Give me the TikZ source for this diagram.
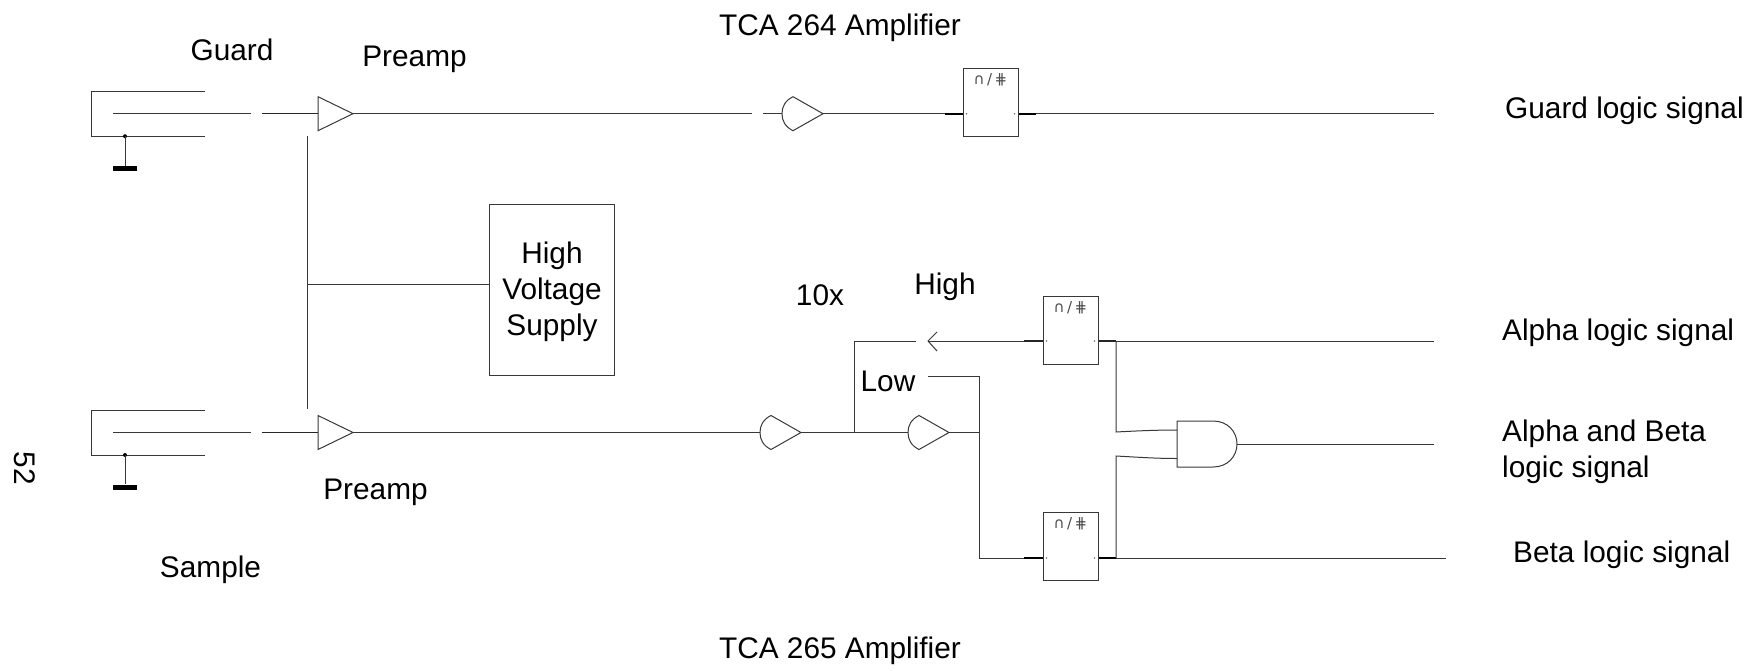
\documentclass[tikz,border=0pt]{standalone}
\usepackage{fontspec}
\setmainfont{Liberation Sans}
\newfontfamily\symfont{DejaVu Sans}
\tikzset{
  wire/.style={draw=black!78,line width=1pt},
  thick wire/.style={draw=black,line width=1.8pt},
  lead wire/.style={draw=black!85,line width=1.2pt},
  lbl/.style={inner sep=0pt,font=\fontsize{29.8}{36}\selectfont,text=black},
  lblw/.style={lbl,anchor=west},
  logicbox/.style={draw=black!78,line width=1pt,minimum width=55pt,minimum height=68pt,inner sep=0pt,
     label={[inner sep=0pt,text=black!70,font=\symfont\fontsize{15}{16}\selectfont,anchor=north,yshift=-5.5pt]north:{∩\,/\,⋕}}},
  hvbox/.style={draw=black!78,line width=1pt,minimum width=125pt,minimum height=171pt,inner sep=0pt},
  dotj/.style={circle,fill=black,inner sep=0pt,minimum size=4pt},
}
% triangular preamp: #1 name, #2 left x, #3 centre y
\newcommand{\preampat}[3]{%
  \coordinate (#1in) at (#2,#3);
  \coordinate (#1out) at (#2+35,#3);
  \draw[wire] (#2,#3-17) -- (#2+35,#3) -- (#2,#3+17) -- cycle;}
% rounded-back amplifier: #1 name, #2 left x, #3 centre y
\newcommand{\ampat}[3]{%
  \coordinate (#1in) at (#2,#3);
  \coordinate (#1out) at (#2+41,#3);
  \draw[wire] (#2+11,#3-17) .. controls (#2+3,#3-13) and (#2,#3-7) .. (#2,#3)
     .. controls (#2,#3+7) and (#2+3,#3+13) .. (#2+11,#3+17) -- (#2+41,#3) -- cycle;}
% detector: #1 name, #2 centre y
\newcommand{\detectorat}[2]{%
  \draw[wire] (205,#2-22.5) -- (91,#2-22.5) -- (91,#2+22.5) -- (205,#2+22.5);
  \coordinate (#1c) at (113,#2);
  \node[dotj] (#1dot) at (125,#2+22.5) {};
  \node[fill=black,minimum width=24pt,minimum height=5pt,inner sep=0pt] (#1gnd) at (125,#2+54.5) {};
  \draw[wire] (#1dot.center) -- (#1gnd.north);
  \coordinate (#1e) at (251,#2);
  \draw[wire] (#1c) -- (#1e);}
% box pin marks
\newcommand{\pinmarks}[2]{%
  \coordinate (pmy) at (0,#2);
  \fill[black!55] ([xshift=4pt]#1.west |- pmy) circle (0.9pt);
  \fill[black!55] ([xshift=-4pt]#1.east |- pmy) circle (0.9pt);}
\begin{document}
\begin{tikzpicture}[x=1pt,y=-1pt]
\useasboundingbox (0,0) rectangle (1754,670);

% upper channel
\detectorat{g}{113.7}
\preampat{gp}{318}{113.7}
\coordinate (gs) at (262,113.7);
\draw[lead wire] (gs) -- (gpin);
\coordinate (ga) at (752,113.7);
\draw[wire] (gpout) -- (ga);
\ampat{ua}{782}{113.7}
\coordinate (ub) at (763,113.7);
\draw[wire] (ub) -- (uain);
\node[logicbox] (ubox) at (990.5,102.5) {};
\pinmarks{ubox}{113.7}
\coordinate (gout) at (1434,113.7);
\draw[wire] (uaout) -- (ubox.west |- uaout);
\draw[wire] (ubox.east |- gout) -- (gout);
\draw[thick wire] (945,113.7) -- (ubox.west |- gout);
\draw[thick wire] (ubox.east |- gout) -- (1036,113.7);

% lower channel
\detectorat{s}{432.5}
\preampat{sp}{318}{432.5}
\coordinate (ss) at (262,432.5);
\draw[lead wire] (ss) -- (spin);
\ampat{la}{760}{432.5}
\draw[wire] (spout) -- (lain);
\ampat{lb}{908}{432.5}
\coordinate (j1) at (854,432.5);
\draw[wire] (laout) -- (lbin);

% high voltage
\node[hvbox,label={[lbl,align=center,yshift=-1.5pt]center:High\\Voltage\\Supply}] (hv) at (552,290) {};
\coordinate (hvt) at (307,136);
\coordinate (hvb) at (307,409);
\coordinate (hvj) at (307,284.5);
\draw[wire] (hvt) -- (hvb);
\draw[wire] (hvj) -- (hv.west |- hvj);

% high range
\node[logicbox] (abox) at (1070.5,330) {};
\pinmarks{abox}{341}
\coordinate (h1) at (854,341);
\coordinate (h2) at (916,341);
\coordinate (htip) at (928,341);
\draw[wire] (j1) -- (h1) -- (h2);
\draw[wire] (abox.west |- htip) -- (htip);
\draw[wire] (937,332) -- (htip) -- (937,351);
\draw[lead wire] (1024,341) -- (abox.west |- htip);
\coordinate (aout) at (1434,341);
\draw[wire] (abox.east |- aout) -- (aout);
\draw[lead wire] (abox.east |- aout) -- (1116,341);

% low range
\node[logicbox] (bbox) at (1070.5,546.5) {};
\pinmarks{bbox}{558}
\coordinate (l0) at (928,376);
\coordinate (l1) at (979,376);
\coordinate (l2) at (979,558);
\draw[wire] (lbout) -- (979,432.5);
\draw[wire] (l0) -- (l1) -- (l2) -- (bbox.west |- l2);
\draw[thick wire] (1024,558) -- (bbox.west |- l2);
\coordinate (bout) at (1446,558);
\draw[wire] (bbox.east |- l2) -- (bout);
\draw[thick wire] (bbox.east |- l2) -- (1116,558);

% and gate
\draw[wire] (1177,421) -- (1213,421) .. controls (1228,421) and (1237,432) .. (1237,444)
  .. controls (1237,456) and (1228,467) .. (1213,467) -- (1177,467) -- cycle;
\coordinate (andin1) at (1177,430);
\coordinate (andin2) at (1177,458.5);
\coordinate (andout) at (1237,444);
\coordinate (c1) at (1116,341);
\coordinate (c2) at (1116,432);
\coordinate (c3) at (1116,456);
\coordinate (c4) at (1116,558);
\draw[wire] (c1) -- (c2) .. controls (1135,431) and (1155,430) .. (andin1);
\draw[wire] (c4) -- (c3) .. controls (1135,457) and (1155,458.5) .. (andin2);
\coordinate (about) at (1434,444);
\draw[wire] (andout) -- (about);

% labels
\node[lbl] (t1) at (232,50) {Guard};
\node[lbl] (t2) at (414.5,59) {Preamp};
\node[lbl] (t3) at (840,27.5) {TCA 264 Amplifier};
\node[lblw] (t4) at (1505,110.5) {Guard logic signal};
\node[lblw] (t5) at (1502,332.5) {Alpha logic signal};
\node[lblw,align=left] (t6) at (1502,451.5) {Alpha and Beta\\logic signal};
\node[lblw] (t7) at (1513,554.5) {Beta logic signal};
\node[lbl] (t8) at (945,287) {High};
\node[lbl] (t9) at (820,295) {10x};
\node[lbl] (t10) at (888,381) {Low};
\node[lbl] (t11) at (375.5,492) {Preamp};
\node[lbl] (t12) at (210.5,569.5) {Sample};
\node[lbl] (t13) at (840,650.5) {TCA 265 Amplifier};
\node[lbl,rotate=-90] (t14) at (25,468) {52};
\end{tikzpicture}
\end{document}
